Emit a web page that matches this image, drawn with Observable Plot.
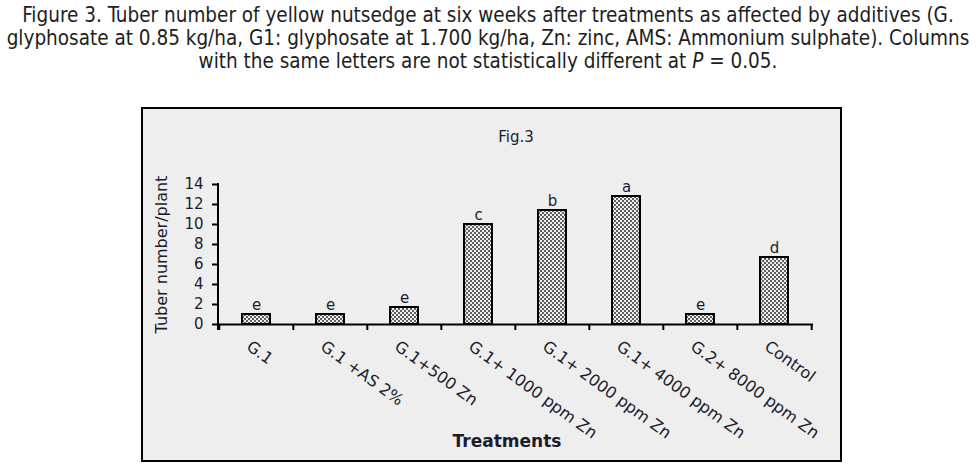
<!DOCTYPE html>
<html>
<head>
<meta charset="utf-8">
<script src="https://cdn.jsdelivr.net/npm/d3@7"></script>
<script src="https://cdn.jsdelivr.net/npm/@observablehq/plot@0.6"></script>
<style>
  html, body { margin: 0; padding: 0; background: #ffffff; }
  body { width: 976px; height: 469px; position: relative; overflow: hidden; }
  #title {
    position: absolute; left: 0; top: 4px; width: 976px;
    text-align: center; color: #1e1e1e;
    font-family: "Liberation Sans Narrow", "DejaVu Sans Condensed", "Roboto", sans-serif;
    font-size: 20.5px; line-height: 23px;
  }
  #title div { white-space: nowrap; }
  #box {
    position: absolute; left: 141px; top: 107px;
    width: 697px; height: 351px;
    border: 2px solid #000; background: #eeeeee;
  }
  #box svg { display: block; }
</style>
</head>
<body>
<div id="title">
  <div>Figure 3. Tuber number of yellow nutsedge at six weeks after treatments as affected by additives (G.</div>
  <div>glyphosate at 0.85 kg/ha, G1: glyphosate at 1.700 kg/ha, Zn: zinc, AMS: Ammonium sulphate). Columns</div>
  <div>with the same letters are not statistically different at <i>P</i> = 0.05.</div>
</div>
<div id="box"></div>
<script>
const categories = ["G.1", "G.1 +AS 2%", "G.1+500 Zn", "G.1+ 1000 ppm Zn", "G.1+ 2000 ppm Zn", "G.1+ 4000 ppm Zn", "G.2+ 8000 ppm Zn", "Control"];
const values = [1.0, 1.0, 1.7, 10.0, 11.4, 12.8, 1.0, 6.7];
const letters = ["e", "e", "e", "c", "b", "a", "e", "d"];
const yTicks = [0, 2, 4, 6, 8, 10, 12, 14];
const figLabel = "Fig.3";
const yLabel = "Tuber number/plant";
const xLabel = "Treatments";

const data = categories.map((c, i) => ({cat: c, val: values[i], letter: letters[i]}));

const W = 697, H = 351, ML = 75, MR = 27, MT = 75, MB = 136;
const step = (W - ML - MR) / categories.length;

const defsMark = () => {
  const defs = d3.create("svg:defs");
  const p = defs.append("pattern").attr("id", "hatch").attr("width", 4).attr("height", 4)
    .attr("patternUnits", "userSpaceOnUse");
  p.append("rect").attr("width", 4).attr("height", 4).attr("fill", "#efefef");
  p.append("path").attr("d", "M0,0L4,4M4,0L0,4").attr("stroke", "#3a3a3a").attr("stroke-width", 0.8);
  return defs.node();
};

const yLineMark = (index, scales, values, dims) => {
  const l = d3.create("svg:line")
    .attr("x1", dims.marginLeft).attr("x2", dims.marginLeft)
    .attr("y1", scales.y(yTicks[yTicks.length - 1]) - 1).attr("y2", scales.y(0) + 6)
    .attr("stroke", "#000").attr("stroke-width", 2);
  return l.node();
};

const chart = Plot.plot({
  width: W, height: H,
  marginLeft: ML, marginRight: MR, marginTop: MT, marginBottom: MB,
  style: {background: "transparent", fontFamily: "DejaVu Sans", fontSize: "15px", color: "#1c1c2c", overflow: "visible"},
  x: {domain: categories, paddingInner: 0.62, paddingOuter: 0.31, axis: null},
  y: {domain: [0, 14], axis: null},
  marks: [
    defsMark,
    Plot.barY(data, {x: "cat", y: "val", fill: "url(#hatch)", stroke: "#000", strokeWidth: 2}),
    Plot.ruleY([0], {stroke: "#000", strokeWidth: 2}),
    yLineMark,
    Plot.axisY({ticks: yTicks, tickSize: 6, tickPadding: 9, strokeWidth: 2, stroke: "#000", label: null, fontSize: 15}),
    Plot.axisX({tickSize: 6, tickFormat: () => "", dx: -step / 2, strokeWidth: 2, stroke: "#000", label: null}),
    Plot.axisX({ticks: [categories[categories.length - 1]], tickSize: 6, tickFormat: () => "", dx: step / 2, strokeWidth: 2, stroke: "#000", label: null}),
    Plot.text(data, {x: "cat", y: "val", text: "letter", lineAnchor: "bottom", dy: -5, fontSize: 15}),
    Plot.text(data, {x: "cat", y: 0, text: "cat", rotate: 36, textAnchor: "start", dx: -8, dy: 20, fontSize: 16}),
    Plot.text([figLabel], {text: d => d, frameAnchor: "top", dy: -53, fontSize: 15}),
    Plot.text([yLabel], {text: d => d, frameAnchor: "left", textAnchor: "middle", dx: -57, rotate: -90, fontSize: 16}),
    Plot.text([xLabel], {text: d => d, frameAnchor: "bottom", dy: 122, dx: -9, fontWeight: "bold", fontSize: 17})
  ]
});
document.getElementById("box").appendChild(chart);
</script>
</body>
</html>
